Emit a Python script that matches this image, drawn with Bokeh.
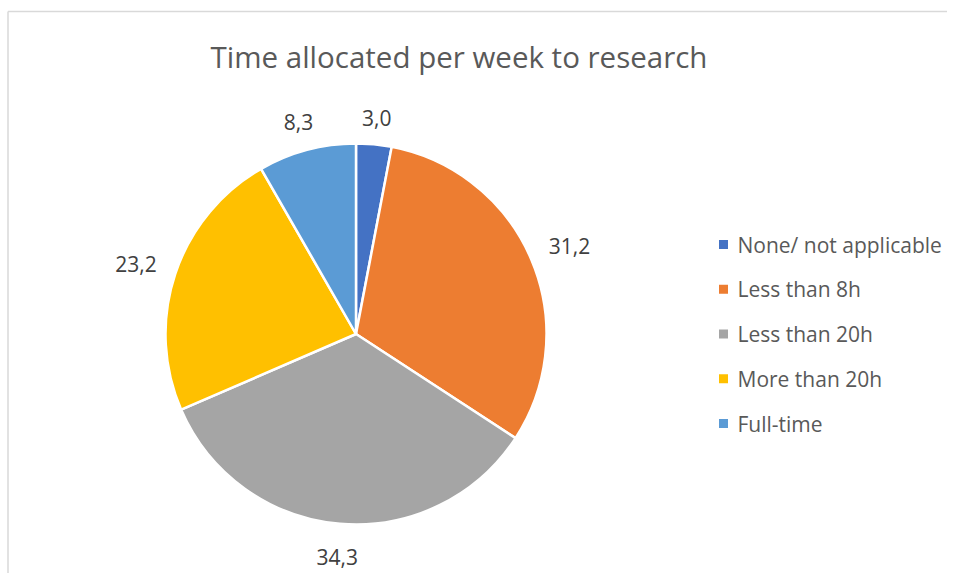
import math
from bokeh.plotting import figure
from bokeh.models import Range1d, ColumnDataSource
from bokeh.core.properties import value
from bokeh.embed import file_html
from bokeh.resources import INLINE

categories = ["None/ not applicable", "Less than 8h", "Less than 20h", "More than 20h", "Full-time"]
values = [3.0, 31.2, 34.3, 23.2, 8.3]
colors = ["#4472C4", "#ED7D31", "#A5A5A5", "#FFC000", "#5B9BD5"]
title = "Time allocated per week to research"

FONT = "Open Sans"
W, H = 947, 573
p = figure(width=W, height=H, output_backend="svg", toolbar_location=None,
           x_range=Range1d(0, W), y_range=Range1d(581 - H, 581),
           min_border=0, outline_line_color=None)
p.axis.visible = False
p.grid.visible = False

def sy(y):
    return 581 - y

# frame (left and top edges)
p.segment(x0=[7.5, 7.5], y0=[sy(11), sy(11)], x1=[7.5, 3000], y1=[-1000, sy(11)],
          line_color="#D9D9D9", line_width=1.5)

cx, cy, R = 355.5, sy(333.5), 190.5
total = sum(values)
starts, ends, mids = [], [], []
a = math.pi / 2
for v in values:
    s = a
    e = a - v / total * 2 * math.pi
    starts.append(s); ends.append(e); mids.append((s + e) / 2)
    a = e

src = ColumnDataSource(dict(start=starts, end=ends, color=colors))
p.wedge(x=cx, y=cy, radius=R, start_angle="start", end_angle="end", direction="clock",
        fill_color="color", line_color="white", line_width=2.5, source=src)

# data labels
lab_fs = 21
lx, ly, lt = [], [], []
for v, m in zip(values, mids):
    t = f"{v:.1f}".replace(".", ",")
    w = len(t) * 0.5 * lab_fs
    h = lab_fs
    d = R + 18 + abs(math.cos(m)) * w / 2 + abs(math.sin(m)) * h / 2
    lx.append(cx + d * math.cos(m)); ly.append(cy + d * math.sin(m) - 3); lt.append(t)
p.text(x=lx, y=ly, text=lt, text_align="center", text_baseline="middle",
       text_font=value(FONT), text_font_size=f"{lab_fs}px", text_color="#404040")

# title
p.text(x=[458.5], y=[sy(56)], text=[title], text_align="center", text_baseline="middle",
       text_font=value(FONT), text_font_size="29.5px", text_color="#595959")

# legend
ys = [sy(244 + 44.75 * i) for i in range(len(categories))]
p.scatter(x=[723] * len(categories), y=ys, marker="square", size=9,
          fill_color=colors, line_color=None)
p.text(x=[737] * len(categories), y=ys, text=categories, text_align="left",
       text_baseline="middle", text_font=value(FONT), text_font_size="21px",
       text_color="#595959")

open("out.html", "w").write(file_html(p, INLINE))
